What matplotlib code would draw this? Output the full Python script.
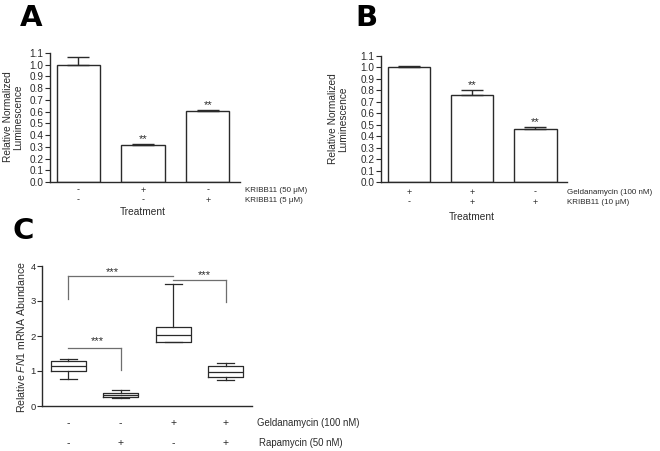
import matplotlib.pyplot as plt
from matplotlib.transforms import blended_transform_factory

plt.rcParams['font.family'] = ['Liberation Sans', 'DejaVu Sans']
plt.rcParams['mathtext.fontset'] = 'custom'
plt.rcParams['mathtext.rm'] = 'Liberation Sans'
plt.rcParams['mathtext.it'] = 'Liberation Sans:italic'

# ---- données panneau A
a_vals = [1.0, 0.315, 0.603]
a_err = [0.068, 0.008, 0.008]
a_stars = ['', '**', '**']
a_row1 = ['-', '+', '-']
a_row2 = ['-', '-', '+']
a_labels = ['KRIBB11 (50 \u03bcM)', 'KRIBB11 (5 \u03bcM)']

# ---- données panneau B
b_vals = [1.0, 0.76, 0.46]
b_err = [0.016, 0.047, 0.017]
b_stars = ['', '**', '**']
b_row1 = ['+', '+', '-']
b_row2 = ['-', '+', '+']
b_labels = ['Geldanamycin (100 nM)', 'KRIBB11 (10 \u03bcM)']

# ---- données panneau C (boxplots)
c_med = [1.14, 0.31, 2.02, 0.96]
c_q1 = [1.01, 0.25, 1.83, 0.82]
c_q3 = [1.28, 0.38, 2.25, 1.14]
c_lo = [0.78, 0.22, 1.83, 0.75]
c_hi = [1.35, 0.45, 3.49, 1.24]
c_row1 = ['-', '-', '+', '+']
c_row2 = ['-', '+', '-', '+']
c_labels = ['Geldanamycin (100 nM)', 'Rapamycin (50 nM)']
# crochets : x1, x2, y, bas gauche, bas droite, x étoiles, y étoiles
brackets = [
    (1, 3, 3.71, 3.06, None, 1.84, 3.84),
    (1, 2, 1.65, None, 1.03, 1.55, 1.86),
    (3, 4, 3.59, None, 2.96, 3.60, 3.75),
]

W, H = 660, 451
dark = '#2a2a2a'
fig = plt.figure(figsize=(W / 100, H / 100), dpi=100)


def px_axes(x0, x1, ytop, ybot):
    return fig.add_axes([x0 / W, (H - ybot) / H, (x1 - x0) / W, (ybot - ytop) / H])


def style(ax, fs):
    for s in ['top', 'right']:
        ax.spines[s].set_visible(False)
    for s in ['left', 'bottom']:
        ax.spines[s].set_color(dark)
        ax.spines[s].set_linewidth(1.0)
    ax.tick_params(axis='y', direction='out', length=3.5, width=0.8,
                   color=dark, labelcolor=dark, labelsize=fs, pad=1)
    ax.set_xticks([])


def bar_panel(ax, vals, err, stars, row1, row2, labels, lab_x, rows_y, treat_y):
    x = range(len(vals))
    ax.bar(x, vals, width=0.67, color='white', edgecolor=dark, linewidth=1.0)
    ax.errorbar(x, vals, yerr=[[0] * len(vals), err], fmt='none',
                ecolor=dark, elinewidth=1.0, capsize=7.9, capthick=1.0)
    for i, s in enumerate(stars):
        if s:
            ax.annotate(s, (i, vals[i] + err[i]), xytext=(0, 3.5),
                        textcoords='offset points', ha='center', va='center',
                        fontsize=8, color=dark)
    ax.set_xlim(-0.44, 2.5)
    ax.set_ylim(0, 1.1)
    ax.set_yticks([i / 10 for i in range(12)])
    ax.set_yticklabels(['%.1f' % (i / 10) for i in range(12)])
    style(ax, 7.2)
    tr = blended_transform_factory(ax.transData, fig.transFigure)
    for i in x:
        ax.text(i, (H - rows_y[0]) / H, row1[i], transform=tr, ha='center',
                va='center', fontsize=6.5, color=dark)
        ax.text(i, (H - rows_y[1]) / H, row2[i], transform=tr, ha='center',
                va='center', fontsize=6.5, color=dark)
    fig.text(lab_x / W, (H - rows_y[0]) / H, labels[0], ha='left', va='center',
             fontsize=5.8, color=dark)
    fig.text(lab_x / W, (H - rows_y[1]) / H, labels[1], ha='left', va='center',
             fontsize=5.8, color=dark)
    ax.text(1, (H - treat_y) / H, 'Treatment', transform=tr, ha='center',
            va='center', fontsize=7.3, color=dark)


# ---- A
axA = px_axes(50, 240, 53, 182)
bar_panel(axA, a_vals, a_err, a_stars, a_row1, a_row2, a_labels, 245, (190, 200), 212)
fig.text(13 / W, (H - 117) / H, 'Relative Normalized\nLuminescence', rotation=90,
         ha='center', va='center', multialignment='center', fontsize=7.3,
         color=dark, linespacing=1.0)

# ---- B
axB = px_axes(381, 567, 56, 182)
bar_panel(axB, b_vals, b_err, b_stars, b_row1, b_row2, b_labels, 567, (192, 202), 217)
fig.text(338 / W, (H - 119) / H, 'Relative Normalized\nLuminescence', rotation=90,
         ha='center', va='center', multialignment='center', fontsize=7.3,
         color=dark, linespacing=1.0)

# ---- C
axC = px_axes(42, 252, 266, 406)
stats = []
for i in range(len(c_med)):
    stats.append(dict(med=c_med[i], q1=c_q1[i], q3=c_q3[i],
                      whislo=c_lo[i], whishi=c_hi[i], fliers=[]))
line = dict(color=dark, linewidth=0.9)
axC.bxp(stats, positions=[1, 2, 3, 4], widths=0.67, capwidths=0.33,
        showfliers=False, boxprops=line, whiskerprops=line, capprops=line,
        medianprops=line)
gray = '#6e6e6e'
for x1, x2, y, dl, dr, sx, sy in brackets:
    axC.plot([x1, x2], [y, y], color=gray, lw=0.9)
    if dl is not None:
        axC.plot([x1, x1], [y, dl], color=gray, lw=0.9)
    if dr is not None:
        axC.plot([x2, x2], [y, dr], color=gray, lw=0.9)
    axC.text(sx, sy, '***', ha='center', va='center', fontsize=8, color=dark)
axC.set_xlim(0.5, 4.5)
axC.set_ylim(0, 4)
axC.set_yticks([0, 1, 2, 3, 4])
style(axC, 6.8)
trC = blended_transform_factory(axC.transData, fig.transFigure)
for i in range(4):
    axC.text(i + 1, (H - 423) / H, c_row1[i], transform=trC, ha='center',
             va='center', fontsize=7.5, color=dark)
    axC.text(i + 1, (H - 443) / H, c_row2[i], transform=trC, ha='center',
             va='center', fontsize=7.5, color=dark)
fig.text(257 / W, (H - 423) / H, c_labels[0], ha='left', va='center',
         fontsize=6.9, color=dark)
fig.text(259 / W, (H - 443) / H, c_labels[1], ha='left', va='center',
         fontsize=6.9, color=dark)
fig.text(21 / W, (H - 337) / H, r'Relative $\mathit{FN1}$ mRNA Abundance',
         rotation=90, ha='center', va='center', fontsize=7.6, color=dark)

# ---- lettres des panneaux
for lab, x, ytop in [('A', 20, 4), ('B', 355, 4), ('C', 12, 217)]:
    fig.text(x / W, (H - ytop) / H, lab, ha='left', va='top', fontsize=21,
             fontweight='heavy', family='DejaVu Sans', color='black')

fig.savefig('out.png', dpi=100)
